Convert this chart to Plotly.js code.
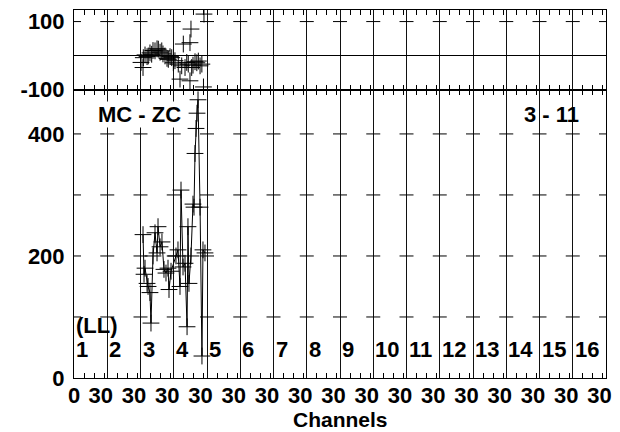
<!DOCTYPE html>
<html><head><meta charset="utf-8">
<script src="https://cdn.plot.ly/plotly-3.0.1.min.js"></script>
<style>html,body{margin:0;padding:0;background:#fff}</style>
</head><body><div id="chart" style="width:620px;height:432px"></div>
<script>
// ---- data ----
const channelNames = ['1','2','3','4','5','6','7','8','9','10','11','12','13','14','15','16'];
const binsPerChannel = 33;
const minorBins = [10, 20, 30];
const labelBin = 26.5;
const firstLabel = '0';
const channelLabel = '30';
const xTitle = 'Channels';

// bottom panel (MC - ZC) points, x in bins across channels
const bottomX = [68.5, 69.5, 70.5, 72.5, 73.5, 75.4, 76.4, 78.4, 80.4, 82.4, 83.4, 85.4, 87.3, 89.3, 91.3, 93.3, 94.3, 96.3,
                 101.2, 103.2, 105.2, 106.2, 108.2, 110.2, 112.2, 113.1, 114.1, 116.1, 118.1, 119.1, 120.1, 121.1, 122.1, 123.1, 125.1, 127.0, 128.0, 130.0];
const bottomY = [235, 170, 180, 155, 150, 140, 90, 200, 238, 205, 248, 215, 223, 178, 172, 180, 145, 175,
                 200, 210, 150, 308, 182, 188, 84, 248, 155, 200, 285, 280, 368, 409, 434, 456, 280, 36, 210, 205];

// top panel (residual) points
const topX = [66.5, 68.5, 68.8, 70.5, 72.5, 73.7, 75.4, 77.1, 78.4, 80.4, 82.4, 83.7, 85.4, 87.1, 88.3, 90.3, 92.3, 93.6, 95.3, 97.0, 98.6,
              100.2, 103.5, 105.2, 106.9, 108.5, 110.2, 111.9, 113.4, 115.1, 115.1, 116.1, 116.8, 118.1, 120.1, 121.9, 123.4, 125.1, 126.9, 128.5, 129.0];
const topY = [-20, -35, -6, 2, -3, -1, 8, 4, 15, 14, 20, 19, 10, 14, 5, -1, -8, -11, -3, -6, -21,
              -15, -25, -69, -30, 34, -35, -20, -25, 38, -74, 78, -35, -28, -18, -21, -16, -30, -25, -92, 122];

const topTickVals = [-100, 100];
const topTickText = ['-100', '100'];
const bottomTickVals = [0, 200, 400];
const bottomTickText = ['0', '200', '400'];
const topMarks = [100];
const bottomMarks = [100, 200, 300, 400];

// ---- derived axis structure ----
const nChan = channelNames.length;
const xMax = nChan * binsPerChannel;
const boundaries = [];
for (let k = 0; k <= nChan; k++) boundaries.push(k * binsPerChannel);
const minorVals = [];
for (let k = 0; k < nChan; k++) minorBins.forEach(b => minorVals.push(k * binsPerChannel + b));
const labelVals = [0], labelText = [firstLabel];
for (let k = 0; k < nChan; k++) { labelVals.push(k * binsPerChannel + labelBin); labelText.push(channelLabel); }

function marks(ys) {
  const mx = [], my = [];
  boundaries.forEach(b => ys.forEach(v => { mx.push(b); my.push(v); }));
  return {mx, my};
}
const bm = marks(bottomMarks), tm = marks(topMarks);

const F = {family: 'Liberation Sans, Arial, sans-serif', size: 22, color: '#000', weight: 'bold'};
const FT = Object.assign({}, F, {size: 21});
const split = 288 / 368;

const cross = {symbol: 'cross-thin', size: 12, color: '#000', line: {width: 1, color: '#000'}};
const tickMark = {symbol: 'line-ew', size: 10, color: '#000', line: {width: 1, color: '#000'}};

const traces = [
  {x: bottomX, y: bottomY, xaxis: 'x', yaxis: 'y', mode: 'lines+markers', line: {color: '#000', width: 1}, marker: cross, hoverinfo: 'skip'},
  {x: topX, y: topY, xaxis: 'x2', yaxis: 'y2', mode: 'markers', marker: cross, hoverinfo: 'skip'},
  {x: bm.mx, y: bm.my, xaxis: 'x', yaxis: 'y', mode: 'markers', marker: tickMark, hoverinfo: 'skip'},
  {x: tm.mx, y: tm.my, xaxis: 'x2', yaxis: 'y2', mode: 'markers', marker: tickMark, hoverinfo: 'skip'},
  {x: [0], y: [null], xaxis: 'x3', yaxis: 'y', mode: 'markers', hoverinfo: 'skip'}
];

const gridAxis = {
  range: [0, xMax], tickmode: 'array', tickvals: boundaries, showticklabels: false, ticks: '',
  showgrid: true, gridcolor: '#111', gridwidth: 1, zeroline: false,
  showline: true, linecolor: '#000', linewidth: 1, mirror: 'ticks',
  minor: {tickmode: 'array', tickvals: minorVals, ticks: 'inside', ticklen: 5, tickcolor: '#000', tickwidth: 1, showgrid: false}
};

const layout = {
  width: 620, height: 432, showlegend: false,
  paper_bgcolor: '#fff', plot_bgcolor: '#fff',
  margin: {l: 74, r: 14, t: 10, b: 54},
  font: F,
  xaxis: Object.assign({}, gridAxis, {anchor: 'y', domain: [0, 1]}),
  xaxis2: Object.assign({}, gridAxis, {anchor: 'y2', domain: [0, 1]}),
  xaxis3: {overlaying: 'x', anchor: 'y', side: 'bottom', range: [0, xMax], tickmode: 'array', tickvals: labelVals, ticktext: labelText,
           tickangle: 0, ticks: '', showgrid: false, zeroline: false, showline: false, tickfont: F, ticklabelstandoff: 2},
  yaxis: {domain: [0, split], range: [0, 472], tickmode: 'array', tickvals: bottomTickVals, ticktext: bottomTickText, ticks: '', showgrid: false, zeroline: false,
          showline: true, linecolor: '#000', mirror: true, tickfont: F, ticklabelstandoff: 4},
  yaxis2: {domain: [split, 1], range: [-101, 134], tickmode: 'array', tickvals: topTickVals, ticktext: topTickText, ticks: '', showgrid: false,
           zeroline: true, zerolinecolor: '#000', zerolinewidth: 1,
           showline: true, linecolor: '#000', mirror: true, tickfont: F, ticklabelstandoff: 4},
  annotations: [
    {text: xTitle, xref: 'paper', yref: 'paper', x: 0.5, y: -0.114, xanchor: 'center', yanchor: 'middle', showarrow: false, font: FT, borderpad: 0},
    {text: 'MC - ZC', xref: 'paper', yref: 'paper', x: 0.043, y: 0.715, xanchor: 'left', yanchor: 'middle', showarrow: false, font: F, bgcolor: '#fff', borderpad: 0},
    {text: '3 - 11', xref: 'paper', yref: 'paper', x: 0.842, y: 0.715, xanchor: 'left', yanchor: 'middle', showarrow: false, font: F},
    {text: '(LL)', xref: 'paper', yref: 'paper', x: 0.0, y: 0.143, xanchor: 'left', yanchor: 'middle', showarrow: false, font: F}
  ].concat(channelNames.map((n, k) => ({
    text: n, xref: 'x', yref: 'paper', x: k * binsPerChannel, y: 0.077, xanchor: 'left', yanchor: 'middle', showarrow: false, font: F
  })))
};

Plotly.newPlot('chart', traces, layout, {staticPlot: true});
</script></body></html>
